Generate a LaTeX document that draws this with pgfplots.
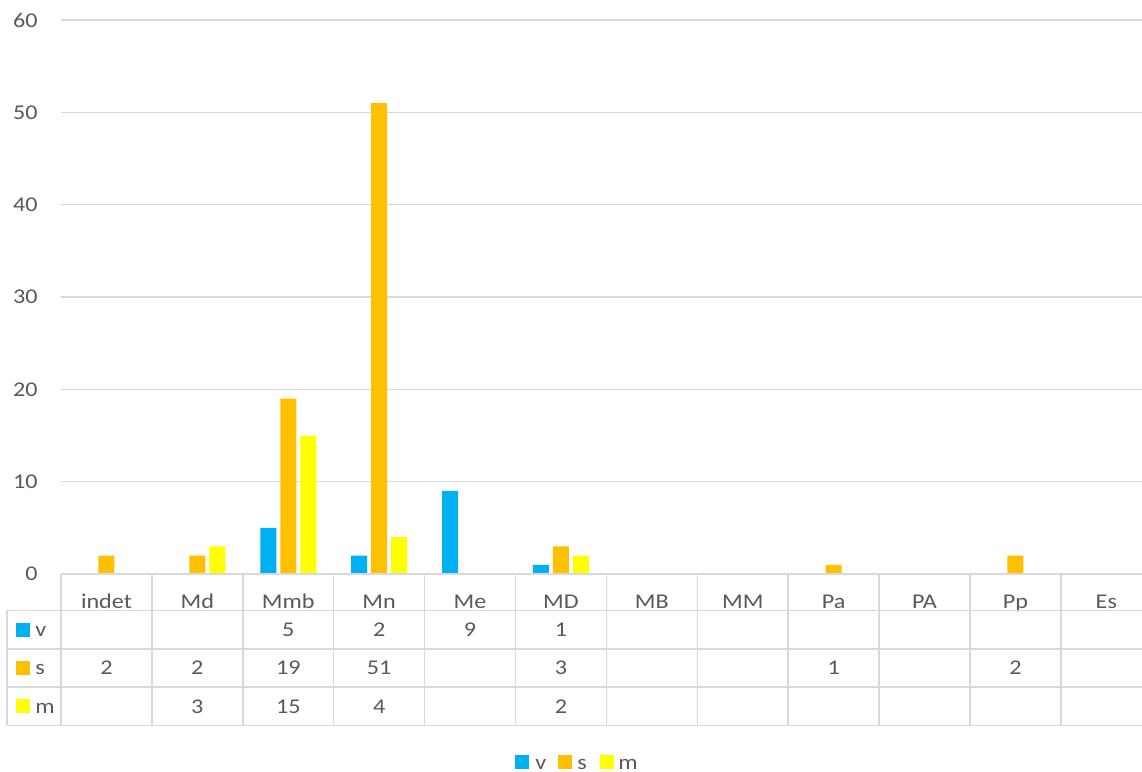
\documentclass[border=0pt]{standalone}
\usepackage{pgfplots}
\pgfplotsset{compat=1.18}
\usepackage{fontspec}
\setmainfont{Carlito}[FakeStretch=1.15]
\definecolor{colV}{HTML}{00B0F0}
\definecolor{colS}{HTML}{FFC000}
\definecolor{colM}{HTML}{FFFF00}
\definecolor{txt}{HTML}{595959}
\definecolor{gridc}{HTML}{D9D9D9}
\begin{document}
\begin{tikzpicture}[font=\fontsize{10.5}{12}\selectfont, text=txt]
\path[use as bounding box] (0pt,0pt) rectangle (571pt,386pt);
\begin{axis}[
  at={(30.5pt,99pt)}, anchor=south west,
  scale only axis, width=545.4pt, height=277pt,
  xmin=0, xmax=12, ymin=0, ymax=60,
  ytick={0,10,...,60},
  xtick={0.5,1.5,...,11.5},
  xticklabels={indet,Md,Mmb,Mn,Me,MD,MB,MM,Pa,PA,Pp,Es},
  xticklabel style={anchor=base, inner sep=0pt, yshift=-13pt, text=txt},
  yticklabel style={anchor=east, inner sep=0pt, xshift=-11.5pt, text=txt},
  /pgf/number format/assume math mode=true,
  axis line style={draw=none},
  tick style={draw=none},
  ymajorgrids, grid style={gridc, line width=0.75pt},
  clip=false,
  ybar, bar width=8pt,
]
\addplot[fill=colV, draw=none, bar shift=-10pt] coordinates {(2.5,5) (3.5,2) (4.5,9) (5.5,1)};
\addplot[fill=colS, draw=none, bar shift=0pt] coordinates {(0.5,2) (1.5,2) (2.5,19) (3.5,51) (5.5,3) (8.5,1) (10.5,2)};
\addplot[fill=colM, draw=none, bar shift=10pt] coordinates {(1.5,3) (2.5,15) (3.5,4) (5.5,2)};
\end{axis}
\begin{scope}[shift={(0pt,386pt)}, x=0.5pt, y=-0.5pt]
  \draw[gridc, line width=0.75pt] (61,574) -- (1150,574);
  \foreach \yy in {610.5,649,687,725.5} \draw[gridc, line width=0.75pt] (7,\yy) -- (1150,\yy);
  \draw[gridc, line width=0.75pt] (7,610.5) -- (7,725.5);
  \foreach \k in {0,...,12} \draw[gridc, line width=0.75pt] ({61+90.9*\k},574) -- ({61+90.9*\k},725.5);
  % row keys
  \fill[colV] (16,623) rectangle (30,637);
  \node[anchor=base west, inner sep=0pt] at (35,637) {v};
  \fill[colS] (16,661) rectangle (30,675);
  \node[anchor=base west, inner sep=0pt] at (35,675) {s};
  \fill[colM] (16,699) rectangle (30,713);
  \node[anchor=base west, inner sep=0pt] at (35,714) {m};
  % table values
  \foreach \c/\val in {2/5,3/2,4/9,5/1}
    \node[anchor=base, inner sep=0pt] at ({61+90.9*(\c+0.5)},637) {\val};
  \foreach \c/\val in {0/2,1/2,2/19,3/51,5/3,8/1,10/2}
    \node[anchor=base, inner sep=0pt] at ({61+90.9*(\c+0.5)},675) {\val};
  \foreach \c/\val in {1/3,2/15,3/4,5/2}
    \node[anchor=base, inner sep=0pt] at ({61+90.9*(\c+0.5)},714) {\val};
  % bottom legend
  \fill[colV] (515,755) rectangle (529,769);
  \node[anchor=base west, inner sep=0pt] at (535,769) {v};
  \fill[colS] (558,755) rectangle (572,769);
  \node[anchor=base west, inner sep=0pt] at (577,769) {s};
  \fill[colM] (600,755) rectangle (614,769);
  \node[anchor=base west, inner sep=0pt] at (618,769) {m};
\end{scope}
\end{tikzpicture}
\end{document}
